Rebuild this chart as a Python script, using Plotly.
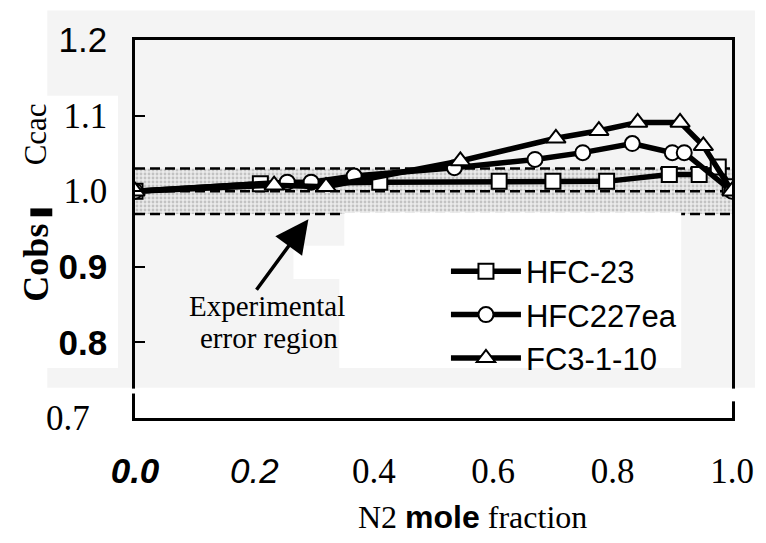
import plotly.graph_objects as go

# ---------------- data ----------------
hfc23_x = [0.0, 0.21, 0.41, 0.61, 0.70, 0.79, 0.895, 0.945, 0.977, 0.997]
hfc23_y = [1.0, 1.010, 1.012, 1.013, 1.013, 1.013, 1.022, 1.022, 1.032, 1.006]

hfc227_x = [0.0, 0.255, 0.295, 0.367, 0.535, 0.67, 0.75, 0.833, 0.90, 0.92, 1.0]
hfc227_y = [1.0, 1.012, 1.012, 1.020, 1.031, 1.042, 1.051, 1.063, 1.051, 1.051, 1.0]

fc3110_x = [0.0, 0.233, 0.32, 0.545, 0.705, 0.777, 0.842, 0.913, 0.952, 1.0]
fc3110_y = [1.0, 1.008, 1.006, 1.040, 1.070, 1.080, 1.091, 1.091, 1.060, 1.0]

series_names = ["HFC-23", "HFC227ea", "FC3-1-10"]

band_low = 0.97
band_mid = 1.0
band_high = 1.03
band_x = [0.0, 1.0]

x_tick_vals = [0.0, 0.2, 0.4, 0.6, 0.8, 1.0]
x_tick_text = ["0.0", "0.2", "0.4", "0.6", "0.8", "1.0"]
y_tick_vals = [0.7, 0.8, 0.9, 1.0, 1.1, 1.2]
y_tick_text = ["0.7", "0.8", "0.9", "1.0", "1.1", "1.2"]

# ---------------- style ----------------
OFF = 8                      # page body margin
W, H = 766 - OFF, 543 - OFF
L, R, T, B = 135 - OFF, 32, 32 - OFF, 125
SERIF = "Liberation Serif"
SANS = "Liberation Sans"
GREY = "#f4f4f4"


def pxx(px):
    return (px - OFF - L) / (W - L - R)


def pxy(py):
    return (H - B - (py - OFF)) / (H - T - B)


def sans(t, bold=False, italic=False):
    s = t
    if bold:
        s = f"<b>{s}</b>"
    if italic:
        s = f"<i>{s}</i>"
    return f"<span style='font-family:{SANS}'>{s}</span>"


y_style = {"0.7": lambda t: t + "&nbsp;&nbsp;", "0.8": lambda t: sans(t, bold=True),
           "0.9": lambda t: sans(t, bold=True), "1.0": lambda t: t,
           "1.1": lambda t: t, "1.2": lambda t: sans(t)}
x_style = {"0.0": lambda t: sans(t, bold=True, italic=True), "0.2": lambda t: sans(t, italic=True)}

fig = go.Figure()

# experimental error band
fig.add_trace(go.Scatter(
    x=[band_x[0], band_x[1], band_x[1], band_x[0], band_x[0]],
    y=[band_low, band_low, band_high, band_high, band_low],
    mode="lines", fill="toself", line=dict(width=0),
    fillcolor="#e6e6e6",
    fillpattern=dict(shape=".", fgcolor="#999999", bgcolor="#ebebeb", size=4, solidity=0.4),
    showlegend=False, hoverinfo="skip"))
for yv in (band_high, band_mid, band_low):
    fig.add_trace(go.Scatter(x=band_x, y=[yv, yv], mode="lines",
                             line=dict(color="black", width=2.5, dash="10px,5px"),
                             showlegend=False, hoverinfo="skip"))

series = [(hfc23_x, hfc23_y, "square", 15),
          (hfc227_x, hfc227_y, "circle", 15),
          (fc3110_x, fc3110_y, "triangle-up", 17)]
for i, (xs, ys, sym, sz) in enumerate(series):
    fig.add_trace(go.Scatter(
        x=xs, y=ys, name=series_names[i], mode="lines+markers",
        line=dict(color="black", width=5.5),
        marker=dict(symbol=sym, size=sz, color="white", line=dict(color="black", width=2)),
        legendgroup=str(i)))


def rect(x0, x1, y0, y1, color, layer):
    return dict(type="rect", xref="paper", yref="paper", layer=layer,
                x0=pxx(x0), x1=pxx(x1), y0=pxy(y1), y1=pxy(y0),
                fillcolor=color, line=dict(width=0))


shapes = [
    rect(47, 757, 2, 387, GREY, "below"),
    rect(OFF, 118, 89, 367, "white", "below"),
    rect(345, 683, 208, 367, "white", "above"),
    rect(294, 346, 242, 276, "white", "above"),
    rect(340, 346, 276, 367, "white", "above"),
    rect(130, 140, 388, 393, "white", "above"),
    rect(728, 740, 388, 401, "white", "above"),
    rect(30, 52, 204, 212, "black", "above"),   # black bar in the y-axis title
]


def ann(text, x, y, **kw):
    d = dict(text=text, xref="paper", yref="paper", x=pxx(x), y=pxy(y),
             xanchor="center", yanchor="middle", showarrow=False)
    d.update(kw)
    return d


annotations = [
    ann("Experimental", 267, 304, font=dict(family=SERIF, size=29, color="black")),
    ann("error region", 269, 336, font=dict(family=SERIF, size=29, color="black")),
    dict(text="", xref="paper", yref="paper", x=pxx(309), y=pxy(215),
         ax=-53, ay=72, showarrow=True, arrowhead=2, arrowsize=1.9, arrowwidth=3.5,
         arrowcolor="black"),
    ann("<b>Cobs</b>", 36, 259, textangle=-90, font=dict(family=SERIF, size=36, color="black")),
    ann("Ccac", 35, 128, textangle=-90, font=dict(family=SERIF, size=31, color="black")),
    ann("N2 " + sans("mole", bold=True) + " fraction", 474, 519,
        font=dict(family=SERIF, size=32, color="black")),
]

fig.update_layout(
    width=W, height=H,
    margin=dict(l=L, r=R, t=T, b=B),
    paper_bgcolor="white", plot_bgcolor="rgba(0,0,0,0)",
    shapes=shapes, annotations=annotations,
    showlegend=True,
    legend=dict(x=pxx(447), y=pxy(241), xanchor="left", yanchor="top",
                bgcolor="rgba(0,0,0,0)", borderwidth=0,
                font=dict(family=SANS, size=31, color="black"),
                itemwidth=70, tracegroupgap=15, traceorder="normal"),
    xaxis=dict(range=[0, 1], tickvals=x_tick_vals,
               ticktext=[x_style.get(t, lambda s: s)(t) for t in x_tick_text],
               tickfont=dict(family=SERIF, size=35, color="black"),
               ticks="", showgrid=False, zeroline=False,
               showline=True, linecolor="black", linewidth=2.5, mirror=True,
               ticklabelstandoff=20),
    yaxis=dict(range=[0.7, 1.2], tickvals=y_tick_vals,
               ticktext=[y_style[t](t) for t in y_tick_text],
               tickfont=dict(family=SERIF, size=35, color="black"),
               ticks="inside", ticklen=10, tickwidth=2, tickcolor="black",
               showgrid=False, zeroline=False,
               showline=True, linecolor="black", linewidth=2.5, mirror=True,
               ticklabelstandoff=18),
)

fig.write_html("out.html")
